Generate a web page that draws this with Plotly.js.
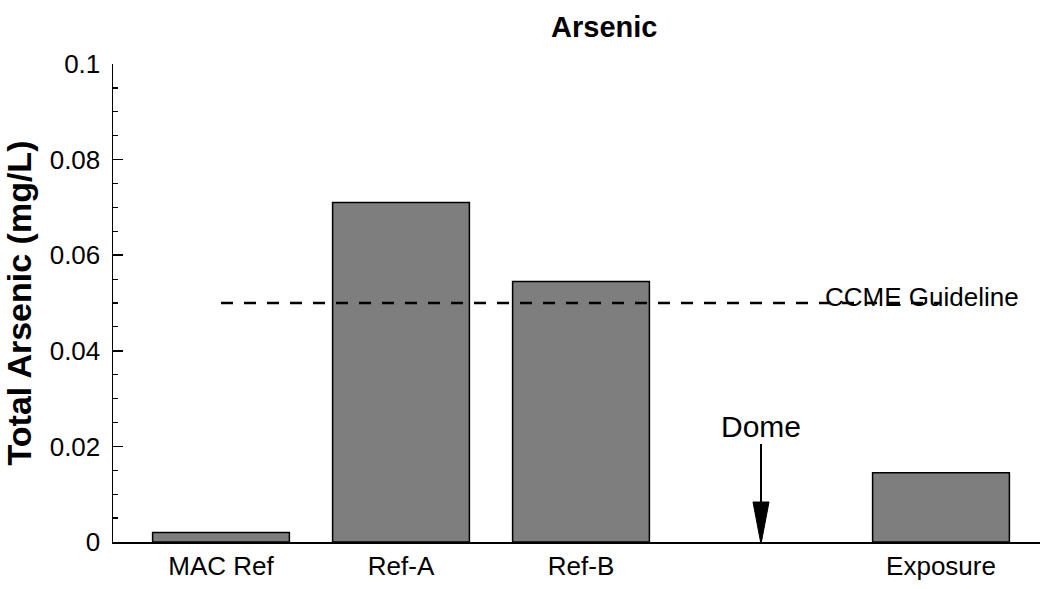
<!DOCTYPE html>
<html>
<head>
<meta charset="utf-8">
<script src="https://cdn.plot.ly/plotly-3.0.1.min.js"></script>
<style>html,body{margin:0;padding:0;background:#fff;}#chart{width:1042px;height:589px;}</style>
</head>
<body>
<div id="chart"></div>
<script>
// Data
var categories = ["MAC Ref", "Ref-A", "Ref-B", "Dome", "Exposure"];
var tickLabels = ["MAC Ref", "Ref-A", "Ref-B", "", "Exposure"];
var arsenic = [0.002, 0.071, 0.0545, null, 0.0145];
var guidelineValue = 0.05;
var guidelineSpan = ["MAC Ref", "Exposure"];

var FONT = "Liberation Sans, Arial, sans-serif";

var bars = {
  type: "bar",
  x: categories,
  y: arsenic,
  width: 0.76,
  marker: {color: "#7e7e7e", line: {color: "#000", width: 1.5}},
  hoverinfo: "x+y",
  showlegend: false
};

var guideline = {
  type: "scatter",
  mode: "lines",
  x: guidelineSpan,
  y: guidelineSpan.map(function(){ return guidelineValue; }),
  line: {color: "#000", width: 2.5, dash: "12px,11px"},
  hoverinfo: "skip",
  showlegend: false
};

var domeIndex = categories.indexOf("Dome");

var layout = {
  width: 1042,
  height: 589,
  margin: {l: 113, r: 2, t: 64, b: 47},
  paper_bgcolor: "#fff",
  plot_bgcolor: "#fff",
  font: {family: FONT, color: "#000", size: 26},
  title: {
    text: "<b>Arsenic</b>",
    font: {family: FONT, size: 29, color: "#000"},
    x: 0.53, xanchor: "center", xref: "paper",
    y: 0.955, yanchor: "middle", yref: "container"
  },
  xaxis: {
    type: "category",
    categoryorder: "array",
    categoryarray: categories,
    tickmode: "array",
    tickvals: categories,
    ticktext: tickLabels,
    range: [-0.6, 4.55],
    showline: true, linecolor: "#000", linewidth: 1.5,
    ticks: "", showgrid: false, zeroline: false,
    tickfont: {family: FONT, size: 26, color: "#000"},
    fixedrange: true
  },
  yaxis: {
    range: [0, 0.1],
    dtick: 0.02, tick0: 0,
    ticks: "inside", ticklen: 10, tickwidth: 1.5, tickcolor: "#000",
    minor: {dtick: 0.005, ticks: "inside", ticklen: 5, tickwidth: 1.2, tickcolor: "#000", showgrid: false},
    showline: true, linecolor: "#000", linewidth: 1.5,
    showgrid: false, zeroline: false,
    tickfont: {family: FONT, size: 26, color: "#000"},
    ticklabelstandoff: 6,
    title: {text: "<b>Total Arsenic (mg/L)</b>", font: {family: FONT, size: 34, color: "#000"}, standoff: 8},
    automargin: false,
    fixedrange: true
  },
  annotations: [
    {
      x: 0.766, xref: "paper", y: guidelineValue, yref: "y",
      xanchor: "left", yanchor: "middle", yshift: 6,
      text: "CCME Guideline", showarrow: false,
      font: {family: FONT, size: 26, color: "#000"}
    },
    {
      x: "Dome", xref: "x", y: 0, yref: "y",
      text: "Dome", showarrow: true, arrowhead: 0, arrowwidth: 2, arrowcolor: "#000",
      ax: 0, ay: -116,
      font: {family: FONT, size: 30, color: "#000"}
    }
  ],
  shapes: [
    {
      type: "path", xref: "x", yref: "y",
      xsizemode: "pixel", ysizemode: "pixel",
      xanchor: domeIndex, yanchor: 0,
      path: "M-8,40 L8,40 L0,-2 Z",
      fillcolor: "#000", line: {color: "#000", width: 1}
    }
  ]
};

Plotly.newPlot("chart", [bars, guideline], layout, {displayModeBar: false, staticPlot: true});
</script>
</body>
</html>
